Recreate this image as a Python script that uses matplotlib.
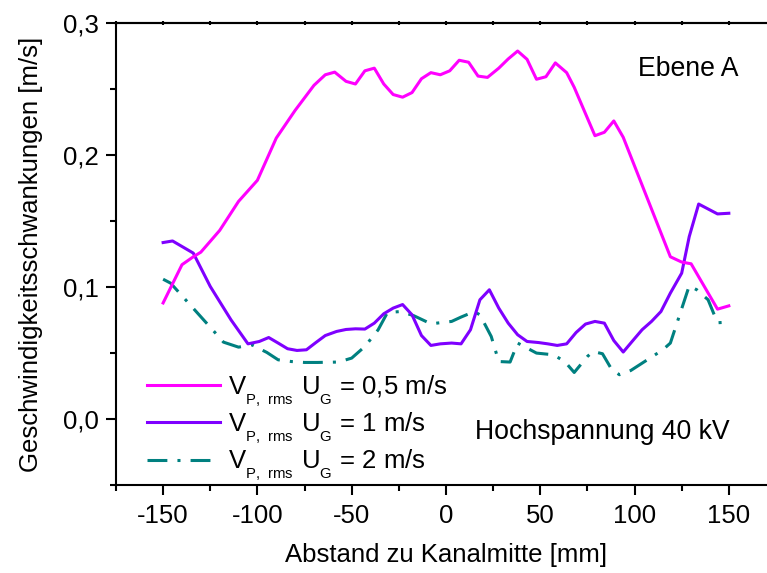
import matplotlib
matplotlib.use("Agg")
import matplotlib.pyplot as plt
import matplotlib._mathtext as mathtext_internals
from matplotlib.ticker import MultipleLocator, FuncFormatter

# Abstand zu Kanalmitte [mm] und Schwankungen [m/s], je Gasgeschwindigkeit
x_05 = [-150, -140, -134, -130, -120, -110, -100, -90, -80, -70, -64, -59, -53, -48,
        -43, -38, -33, -28, -23, -18, -13, -8, -3, 2, 7, 12, 17, 22, 28, 33, 38, 43,
        48, 53, 58, 64, 68, 79, 84, 89, 94, 119, 125, 130, 144, 150]
y_05 = [0.088, 0.117, 0.123, 0.1265, 0.143, 0.165, 0.181, 0.213, 0.234, 0.253, 0.261,
        0.263, 0.256, 0.254, 0.264, 0.266, 0.254, 0.246, 0.244, 0.2475, 0.258, 0.2626,
        0.261, 0.264, 0.272, 0.2705, 0.260, 0.259, 0.266, 0.273, 0.279, 0.2727, 0.2576,
        0.2595, 0.270, 0.2626, 0.2515, 0.2148, 0.2174, 0.226, 0.2136, 0.123, 0.119,
        0.1177, 0.0833, 0.0858]

x_1 = [-150, -145, -134, -125, -114, -105, -99, -94, -89, -84, -79, -74, -69, -64, -58,
       -53, -48, -43, -38, -33, -28, -23, -18, -13, -8, -3, 3, 8, 13, 18, 23, 28, 33,
       38, 43, 49, 54, 59, 64, 69, 74, 79, 84, 89, 94, 99, 104, 109, 114, 119, 125,
       129, 134, 144, 150]
y_1 = [0.1338, 0.135, 0.1258, 0.1005, 0.0752, 0.057, 0.0588, 0.0618, 0.0576, 0.0533,
       0.052, 0.0525, 0.058, 0.0633, 0.0664, 0.0679, 0.0684, 0.0682, 0.0727, 0.0798,
       0.0841, 0.0868, 0.079, 0.0633, 0.0558, 0.057, 0.0576, 0.057, 0.0677, 0.0904,
       0.098, 0.0841, 0.0727, 0.0639, 0.0588, 0.058, 0.057, 0.0558, 0.057, 0.0656,
       0.072, 0.074, 0.0727, 0.0595, 0.0508, 0.0593, 0.0677, 0.074, 0.0815, 0.0955,
       0.1106, 0.1383, 0.163, 0.1555, 0.156]

x_2 = [-150, -146, -123, -118, -110, -103, -95, -89, -82, -75, -68, -57, -50, -43, -36,
       -31, -24, -17, -8, 3, 8, 15, 18, 24, 28, 34, 38, 48, 57, 63, 68, 75, 78, 83, 88,
       92, 98, 115, 119, 129, 133, 139, 144, 150]
y_2 = [0.106, 0.103, 0.0664, 0.0583, 0.0545, 0.0563, 0.0505, 0.0449, 0.0436, 0.0429,
       0.0429, 0.0432, 0.0462, 0.055, 0.0676, 0.0808, 0.0815, 0.0783, 0.0722, 0.074,
       0.0773, 0.0815, 0.079, 0.0626, 0.0436, 0.0432, 0.0576, 0.05, 0.0487, 0.0436,
       0.0353, 0.0474, 0.0512, 0.0495, 0.0373, 0.0336, 0.0368, 0.0525, 0.0576, 0.101,
       0.098, 0.0904, 0.073, 0.0735]

labels = [r'$\mathregular{V_{P,\ rms}\ U_G}$ = 0,5 m/s',
          r'$\mathregular{V_{P,\ rms}\ U_G}$ = 1 m/s',
          r'$\mathregular{V_{P,\ rms}\ U_G}$ = 2 m/s']

# kleinere und tiefer gestellte Indizes als der mathtext-Standard
mathtext_internals.SHRINK_FACTOR = 0.58
mathtext_internals.FontConstantsBase.sub1 = 0.75
mathtext_internals.FontConstantsBase.subdrop = 0.75

plt.rcParams['font.family'] = ['Liberation Sans', 'DejaVu Sans']
plt.rcParams['mathtext.fontset'] = 'custom'
plt.rcParams['mathtext.rm'] = 'Liberation Sans'
plt.rcParams['font.size'] = 18.5

fig = plt.figure(figsize=(7.67, 5.73), dpi=100)
# rechte Achse liegt absichtlich ausserhalb des Bildes
ax = fig.add_axes([0.1512, 0.1536, 0.8605, 0.8057])

lw = 2.2
ax.plot(x_05, y_05, color='#ff00ff', lw=lw, label=labels[0], zorder=4)
ax.plot(x_1, y_1, color='#7f00ff', lw=lw, label=labels[1], zorder=3)
ax.plot(x_2, y_2, color='#008080', lw=lw, ls=(0, (6.5, 3.3, 1, 3.3)),
        label=labels[2], zorder=2)

ax.set_xlim(-175, 175)
ax.set_ylim(-0.05, 0.3)
ax.xaxis.set_major_locator(MultipleLocator(50))
ax.xaxis.set_minor_locator(MultipleLocator(25))
ax.yaxis.set_major_locator(MultipleLocator(0.1))
ax.yaxis.set_minor_locator(MultipleLocator(0.05))
ax.yaxis.set_major_formatter(FuncFormatter(lambda v, p: f"{v:.1f}".replace('.', ',')))
ax.xaxis.set_major_formatter(FuncFormatter(lambda v, p: f"{v:.0f}"))

for s in ax.spines.values():
    s.set_linewidth(1.5)
ax.tick_params(which='major', direction='out', length=7.5, width=1.5, pad=5)
ax.tick_params(which='minor', direction='out', length=4, width=1.5)
ax.tick_params(axis='x', which='major', pad=6)

# kurze Striche an der oberen Achse
top = ax.secondary_xaxis('top')
top.xaxis.set_major_locator(MultipleLocator(25))
top.tick_params(direction='inout', length=2.5, width=1.5, labeltop=False)
top.spines['top'].set_linewidth(1.5)

ax.set_xlabel('Abstand zu Kanalmitte [mm]', labelpad=11)
ax.set_ylabel('Geschwindigkeitsschwankungen [m/s]', labelpad=14)

ax.text(102, 0.265, 'Ebene A', va='center', ha='left', fontsize=19.2)
ax.text(15.5, -0.0095, 'Hochspannung 40 kV', va='center', ha='left', fontsize=19.2)

ax.legend(loc='upper left', bbox_to_anchor=(0.02, 0.2805), frameon=False,
          handlelength=2.85, handletextpad=0.3, labelspacing=0.08, borderpad=0.2)

fig.savefig('out.png', dpi=100)
